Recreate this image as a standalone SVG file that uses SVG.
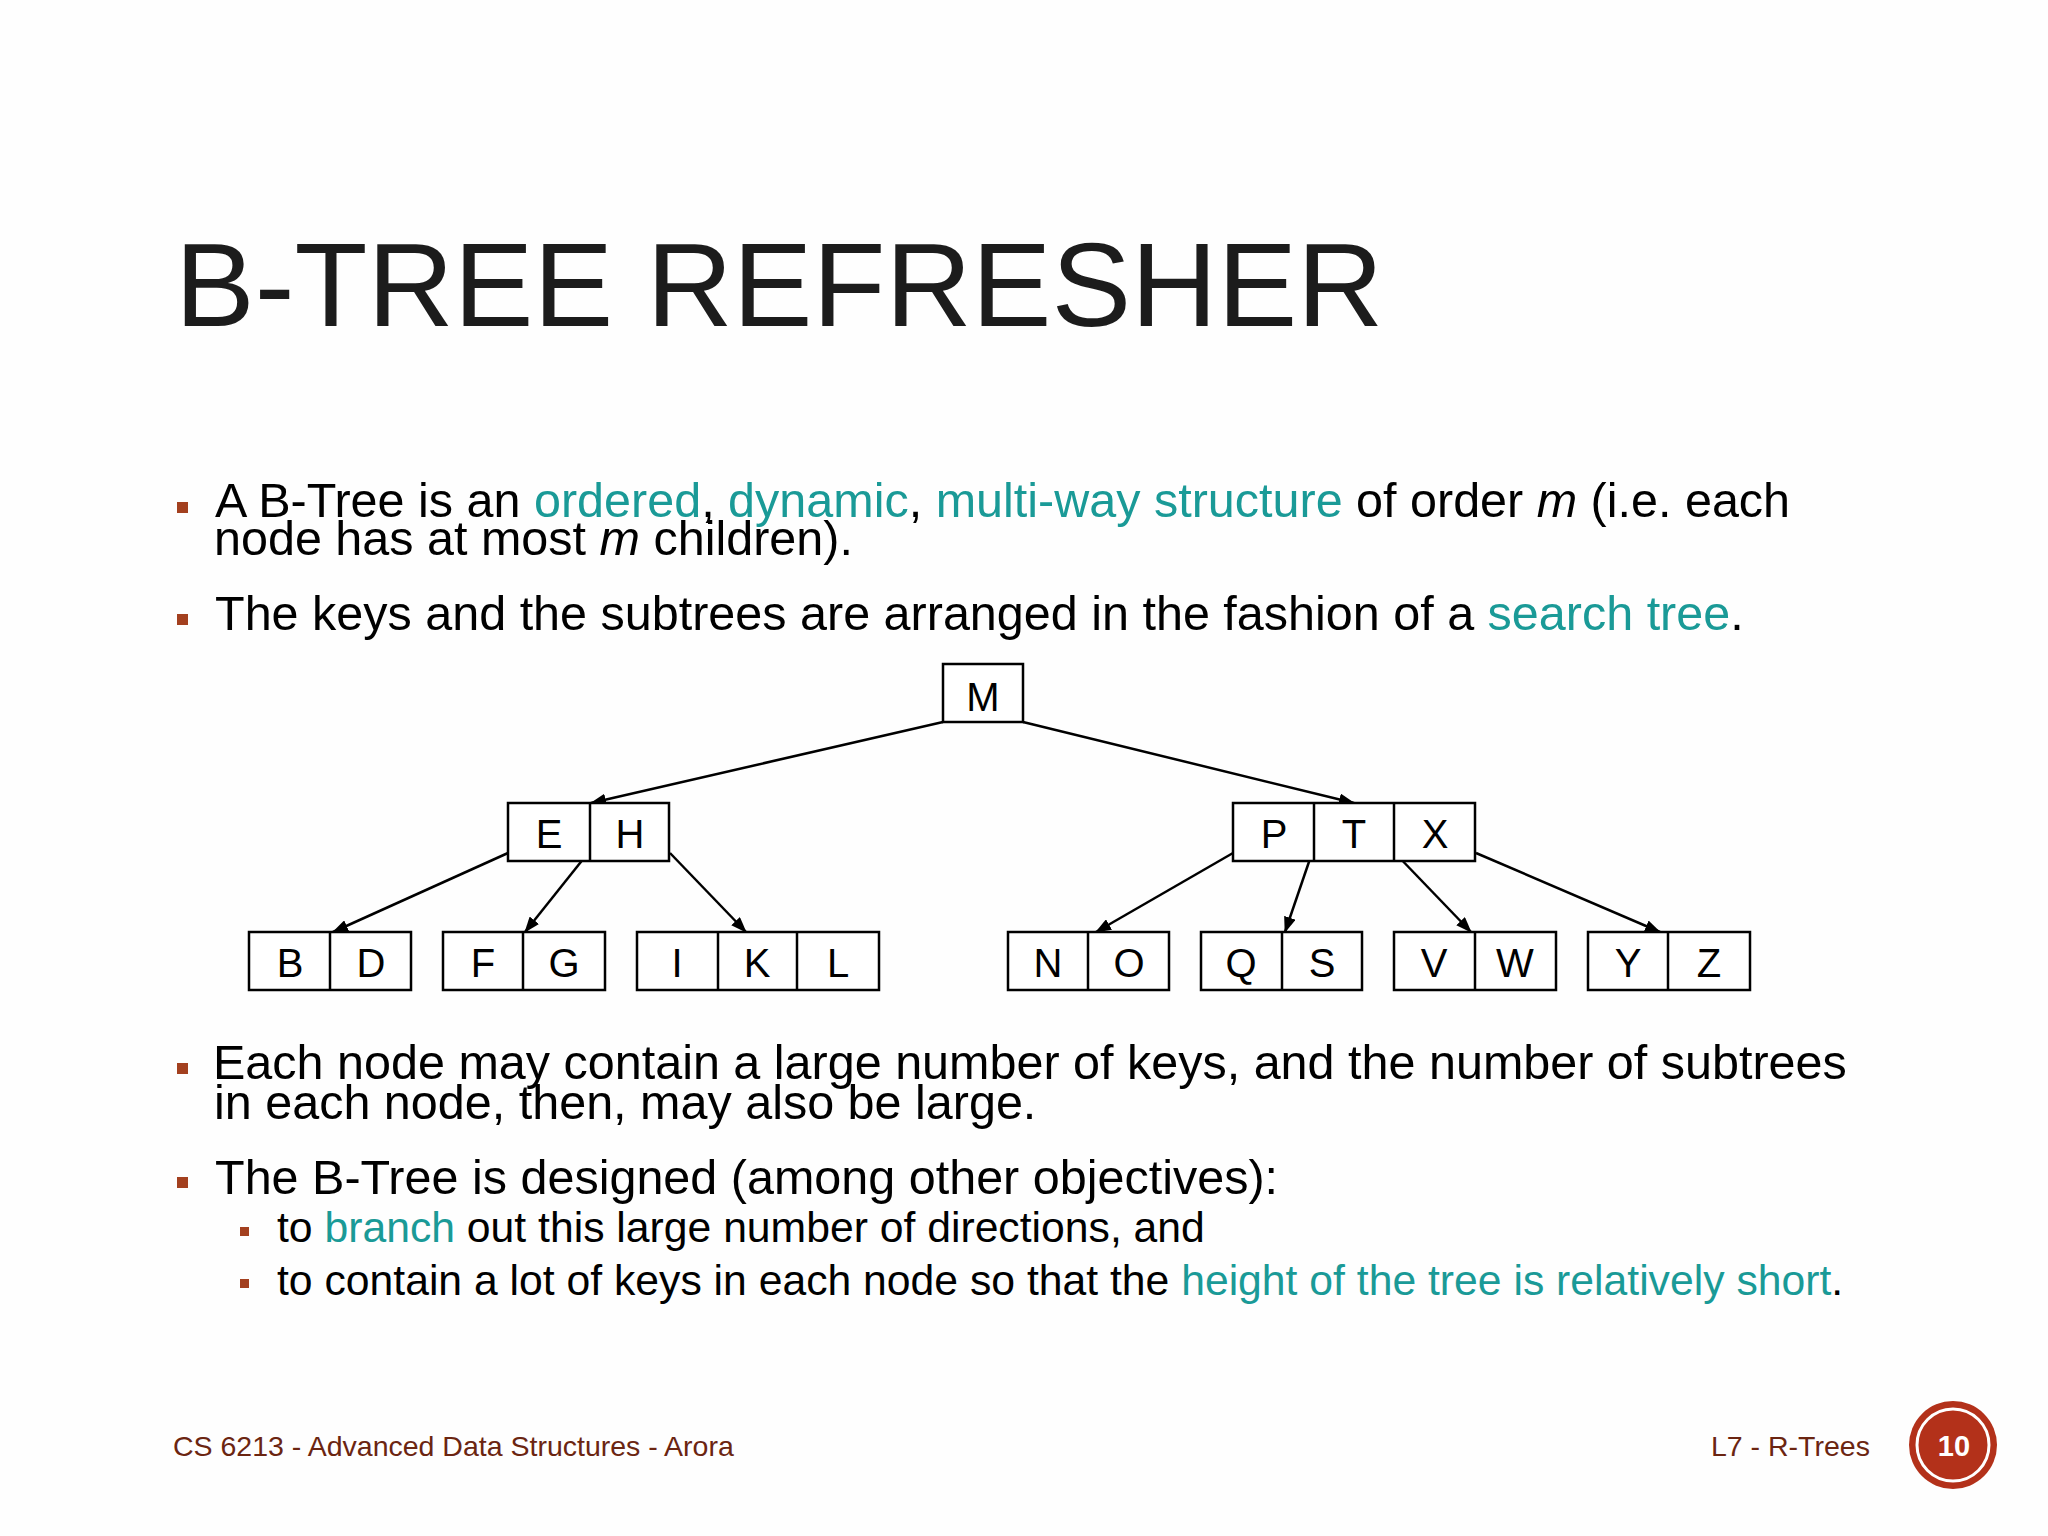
<svg xmlns="http://www.w3.org/2000/svg" width="2048" height="1536" viewBox="0 0 2048 1536">
<style>
.title{font-family:"Liberation Sans",Arial,sans-serif;font-size:119.5px;fill:#1c1c1c}
.body{font-family:"Liberation Sans",Arial,sans-serif;font-size:48.5px;fill:#000}
.sub{font-family:"Liberation Sans",Arial,sans-serif;font-size:42.7px;fill:#000}
.hl{fill:#1a9a97}
.it{font-style:italic}
.bul{fill:#a3401f}
.foot{font-family:"Liberation Sans",Arial,sans-serif;font-size:28.5px;fill:#6b2511}
.box{fill:#fff;stroke:#000;stroke-width:2.5}
.div{stroke:#000;stroke-width:2.5}
.key{font-family:"Liberation Sans",Arial,sans-serif;font-size:40px;fill:#000;text-anchor:middle}
.edge{stroke:#000;stroke-width:2.5;fill:none;marker-end:url(#arr)}
</style>
<defs>
<marker id="arr" markerUnits="userSpaceOnUse" viewBox="0 0 16 12" markerWidth="16" markerHeight="12" refX="15" refY="6" orient="auto">
<path d="M0,0 L16,6 L0,12 z" fill="#000"/>
</marker>
</defs>
<rect width="2048" height="1536" fill="#fefefe"/>

<g id="title">
<text class="title" x="175" y="326">B-TREE REFRESHER</text>
</g>

<g id="bullets">
<rect class="bul" x="177" y="502" width="11" height="11"/>
<text class="body" x="215" y="517">A B-Tree is an <tspan class="hl">ordered</tspan>, <tspan class="hl">dynamic</tspan>, <tspan class="hl">multi-way structure</tspan> of order <tspan class="it">m</tspan> (i.e. each</text>
<text class="body" x="214" y="555">node has at most <tspan class="it">m</tspan> children).</text>
<rect class="bul" x="177" y="614" width="11" height="11"/>
<text class="body" x="215" y="630">The keys and the subtrees are arranged in the fashion of a <tspan class="hl">search tree</tspan>.</text>

<rect class="bul" x="177" y="1063" width="11" height="11"/>
<text class="body" x="213" y="1079">Each node may contain a large number of keys, and the number of subtrees</text>
<text class="body" x="214" y="1119">in each node, then, may also be large.</text>
<rect class="bul" x="177" y="1177" width="11" height="11"/>
<text class="body" x="215" y="1194">The B-Tree is designed (among other objectives):</text>
<rect class="bul" x="240" y="1227" width="9" height="9"/>
<text class="sub" x="277" y="1242">to <tspan class="hl">branch</tspan> out this large number of directions, and</text>
<rect class="bul" x="240" y="1279" width="9" height="9"/>
<text class="sub" x="277" y="1295">to contain a lot of keys in each node so that the <tspan class="hl">height of the tree is relatively short</tspan>.</text>
</g>

<g id="connectors">
<line class="edge" x1="943" y1="722" x2="591" y2="803"/>
<line class="edge" x1="1023" y1="722" x2="1354" y2="803"/>
<line class="edge" x1="508" y1="853" x2="333" y2="932"/>
<line class="edge" x1="588" y1="853" x2="525" y2="932"/>
<line class="edge" x1="670" y1="853" x2="746" y2="932"/>
<line class="edge" x1="1233" y1="853" x2="1096" y2="932"/>
<line class="edge" x1="1312" y1="853" x2="1285" y2="932"/>
<line class="edge" x1="1395" y1="853" x2="1471" y2="932"/>
<line class="edge" x1="1476" y1="853" x2="1660" y2="932"/>
</g>

<g id="node-M">
<rect class="box" x="943" y="664" width="80" height="58"/>
<text class="key" x="983" y="711">M</text>
</g>
<g id="node-EH">
<rect class="box" x="508" y="803" width="161" height="58"/>
<line class="div" x1="590" y1="803" x2="590" y2="861"/>
<text class="key" x="549" y="848">E</text>
<text class="key" x="630" y="848">H</text>
</g>
<g id="node-PTX">
<rect class="box" x="1233" y="803" width="242" height="58"/>
<line class="div" x1="1314" y1="803" x2="1314" y2="861"/>
<line class="div" x1="1394" y1="803" x2="1394" y2="861"/>
<text class="key" x="1274" y="848">P</text>
<text class="key" x="1354" y="848">T</text>
<text class="key" x="1435" y="848">X</text>
</g>
<g id="node-BD">
<rect class="box" x="249" y="932" width="162" height="58"/>
<line class="div" x1="330" y1="932" x2="330" y2="990"/>
<text class="key" x="290" y="977">B</text>
<text class="key" x="371" y="977">D</text>
</g>
<g id="node-FG">
<rect class="box" x="443" y="932" width="162" height="58"/>
<line class="div" x1="523" y1="932" x2="523" y2="990"/>
<text class="key" x="483" y="977">F</text>
<text class="key" x="564" y="977">G</text>
</g>
<g id="node-IKL">
<rect class="box" x="637" y="932" width="242" height="58"/>
<line class="div" x1="718" y1="932" x2="718" y2="990"/>
<line class="div" x1="797" y1="932" x2="797" y2="990"/>
<text class="key" x="677" y="977">I</text>
<text class="key" x="757" y="977">K</text>
<text class="key" x="838" y="977">L</text>
</g>
<g id="node-NO">
<rect class="box" x="1008" y="932" width="161" height="58"/>
<line class="div" x1="1088" y1="932" x2="1088" y2="990"/>
<text class="key" x="1048" y="977">N</text>
<text class="key" x="1129" y="977">O</text>
</g>
<g id="node-QS">
<rect class="box" x="1201" y="932" width="161" height="58"/>
<line class="div" x1="1282" y1="932" x2="1282" y2="990"/>
<text class="key" x="1241" y="977">Q</text>
<text class="key" x="1322" y="977">S</text>
</g>
<g id="node-VW">
<rect class="box" x="1394" y="932" width="162" height="58"/>
<line class="div" x1="1475" y1="932" x2="1475" y2="990"/>
<text class="key" x="1434" y="977">V</text>
<text class="key" x="1515" y="977">W</text>
</g>
<g id="node-YZ">
<rect class="box" x="1588" y="932" width="162" height="58"/>
<line class="div" x1="1668" y1="932" x2="1668" y2="990"/>
<text class="key" x="1628" y="977">Y</text>
<text class="key" x="1709" y="977">Z</text>
</g>

<g id="footer">
<text class="foot" x="173" y="1456">CS 6213 - Advanced Data Structures - Arora</text>
<text class="foot" x="1711" y="1456">L7 - R-Trees</text>
<circle cx="1953" cy="1445" r="44" fill="#b3311a"/>
<circle cx="1953" cy="1445" r="36" fill="none" stroke="#fff" stroke-width="3"/>
<text x="1954" y="1456" font-family="'Liberation Sans',Arial,sans-serif" font-size="29" font-weight="bold" fill="#fff" text-anchor="middle">10</text>
</g>
</svg>
